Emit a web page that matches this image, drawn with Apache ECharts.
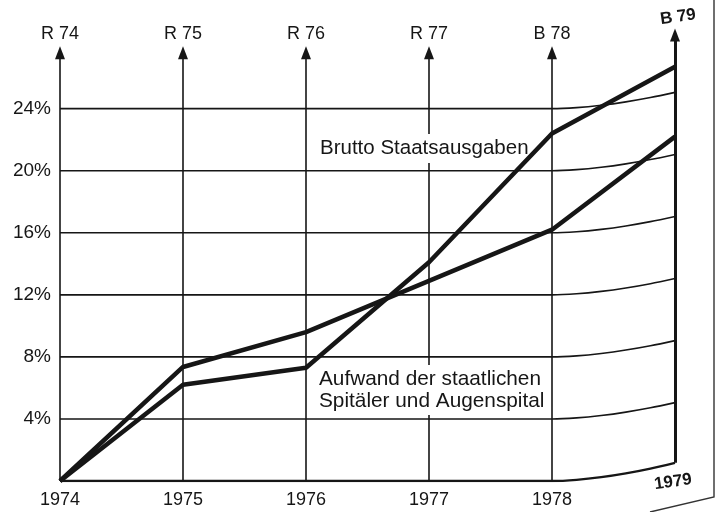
<!DOCTYPE html>
<html><head><meta charset="utf-8">
<script src="https://cdn.jsdelivr.net/npm/echarts@6/dist/echarts.min.js"></script>
<style>html,body{margin:0;padding:0;background:#fff}#c{width:719px;height:512px}</style>
</head><body><div id="c"></div>
<script>
// ---- data ----
const years = ['1974', '1975', '1976', '1977', '1978', '1979'];
const arrowLabels = ['R 74', 'R 75', 'R 76', 'R 77', 'B 78', 'B 79'];
const brutto = [0, 6.2, 7.3, 14.1, 22.4, 26.7];
const aufwand = [0, 7.35, 9.6, 12.9, 16.2, 22.2];
const yTicks = [4, 8, 12, 16, 20, 24];
const seriesNames = ['Brutto Staatsausgaben', 'Aufwand der staatlichen\nSpitäler und Augenspital'];

// ---- style ----
const FONT = '"Liberation Sans", Arial, sans-serif';
const INK = '#161616';
const RISE = 1.05;      // perspective bend of the grid towards 1979
const BASE_RISE = 1.17;
const Y_MAX = 29.2;
const ARROW_TOP = 27.6;
const BEND_STEPS = [0, 0.2, 0.4, 0.6, 0.8, 1];

const chart = echarts.init(document.getElementById('c'), null, {renderer: 'canvas'});

// bent grid line: flat until the 1978 position, then curving up to 1979
function bentLine(v, rise) {
  const n = years.length - 1;
  const pts = [[0, v]];
  BEND_STEPS.forEach(t => pts.push([n - 1 + t, v + rise * Math.pow(t, 1.7)]));
  return pts;
}

const gridSeries = yTicks.map(v => ({
  type: 'line', xAxisIndex: 1, data: bentLine(v, RISE), symbol: 'none', silent: true, z: 1,
  smooth: 0.3, lineStyle: {color: INK, width: 1.6}
}));
gridSeries.push({
  type: 'line', xAxisIndex: 1, data: bentLine(0, BASE_RISE), symbol: 'none', silent: true, z: 1,
  smooth: 0.3, lineStyle: {color: INK, width: 2.4}
});

// vertical arrows
const arrowLines = years.map((y, i) => {
  const last = i === years.length - 1;
  return [
    {coord: [y, last ? BASE_RISE : 0], lineStyle: {width: last ? 3 : 1.6}},
    {coord: [y, last ? Y_MAX - 0.45 : ARROW_TOP], symbol: 'triangle', symbolSize: [10, 13],
     label: last ? {show: false} : {show: true, formatter: arrowLabels[i], position: 'end', distance: 10,
       fontFamily: FONT, fontSize: 18, color: INK}}
  ];
});

const option = {
  animation: false,
  backgroundColor: '#ffffff',
  grid: {left: 60, right: 44, top: 28, bottom: 31},
  xAxis: [{
    type: 'category', data: years, boundaryGap: false,
    axisLine: {show: false}, axisTick: {show: false}, splitLine: {show: false},
    axisLabel: {fontFamily: FONT, fontSize: 18, color: INK, margin: 10,
      formatter: v => v === years[5] ? '' : v}
  }, {
    type: 'value', min: 0, max: years.length - 1, show: false
  }],
  yAxis: {
    type: 'value', min: 0, max: Y_MAX, interval: 4,
    axisLine: {show: false}, axisTick: {show: false}, splitLine: {show: false},
    axisLabel: {fontFamily: FONT, fontSize: 19, color: INK, margin: 9,
      formatter: v => (v > 0 && v <= 24) ? v + '%' : ''}
  },
  series: gridSeries.concat([
    {
      type: 'line', name: 'arrows', data: [], z: 2, silent: true,
      markLine: {
        z: 2, silent: true, animation: false, symbol: ['none', 'none'],
        label: {show: false},
        lineStyle: {type: 'solid', color: INK, width: 1.6},
        emphasis: {disabled: true},
        data: arrowLines
      }
    },
    {
      type: 'line', name: seriesNames[0], data: brutto, z: 4, symbol: 'none', clip: false,
      lineStyle: {color: INK, width: 4.5}
    },
    {
      type: 'line', name: seriesNames[1], data: aufwand, z: 4, symbol: 'none', clip: false,
      lineStyle: {color: INK, width: 4.5}
    }
  ]),
  graphic: [
    {type: 'text', left: 318, top: 134, z: 3,
     style: {text: seriesNames[0], font: '20.5px ' + FONT, fill: INK, backgroundColor: '#fff', padding: [4, 2, 4, 2]}},
    {type: 'text', left: 317, top: 365, z: 3,
     style: {text: seriesNames[1], font: '20.8px ' + FONT, fill: INK, lineHeight: 22, backgroundColor: '#fff', padding: [3, 2, 3, 2]}},
    {type: 'text', x: 673, y: 482, rotation: 0.14, z: 3,
     style: {text: years[5], font: 'bold 17px ' + FONT, fill: INK, align: 'center', verticalAlign: 'middle'}},
    {type: 'text', x: 678, y: 17, rotation: 0.14, z: 3,
     style: {text: arrowLabels[5], font: 'bold 17px ' + FONT, fill: INK, align: 'center', verticalAlign: 'middle'}},
    {type: 'polyline', shape: {points: [[714, 0], [714, 497], [650, 512]]},
     style: {stroke: '#333', lineWidth: 1.4, fill: null}}
  ]
};
chart.setOption(option);
</script></body></html>
